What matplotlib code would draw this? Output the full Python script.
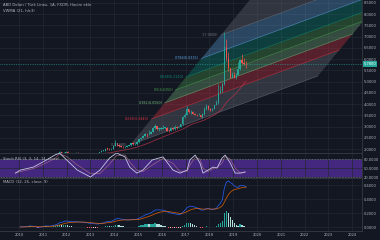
import numpy as np
import pandas as pd
import matplotlib
matplotlib.use("Agg")
import matplotlib.pyplot as plt
from matplotlib.patches import Polygon
from matplotlib.ticker import FuncFormatter
import matplotlib.transforms as mtransforms

BG = '#131722'
GRID = '#242833'
EDGE = '#363a45'
TXT = '#b2b5be'
UP = '#26a69a'
DOWN = '#ef5350'

# USD/TRY monthly, Jan 2010 .. Jul 2019
closes = [1.49, 1.53, 1.52, 1.49, 1.58, 1.58, 1.50, 1.51, 1.44, 1.42, 1.50, 1.55,
          1.60, 1.59, 1.54, 1.52, 1.59, 1.62, 1.70, 1.76, 1.86, 1.76, 1.84, 1.89,
          1.76, 1.75, 1.78, 1.76, 1.84, 1.81, 1.79, 1.83, 1.79, 1.79, 1.79, 1.78,
          1.76, 1.81, 1.81, 1.79, 1.87, 1.93, 1.94, 2.03, 2.02, 1.99, 2.03, 2.15,
          2.26, 2.21, 2.14, 2.10, 2.09, 2.12, 2.14, 2.17, 2.28, 2.22, 2.23, 2.33,
          2.44, 2.50, 2.60, 2.67, 2.66, 2.69, 2.77, 2.93, 3.03, 2.91, 2.91, 2.92,
          2.96, 2.96, 2.82, 2.81, 2.96, 2.88, 3.00, 2.96, 3.00, 3.10, 3.45, 3.52,
          3.77, 3.65, 3.65, 3.55, 3.53, 3.52, 3.52, 3.45, 3.56, 3.80, 3.92, 3.79,
          3.76, 3.80, 3.95, 4.06, 4.50, 4.58, 4.90, 6.56, 6.06, 5.59, 5.18, 5.29,
          5.18, 5.32, 5.55, 5.97, 5.84, 5.80, 5.78]
highs = [1.52, 1.55, 1.56, 1.53, 1.61, 1.62, 1.58, 1.54, 1.53, 1.46, 1.52, 1.58,
         1.62, 1.62, 1.60, 1.55, 1.62, 1.65, 1.72, 1.82, 1.90, 1.88, 1.89, 1.93,
         1.90, 1.78, 1.80, 1.80, 1.87, 1.86, 1.85, 1.84, 1.84, 1.81, 1.80, 1.80,
         1.79, 1.81, 1.84, 1.82, 1.88, 1.96, 1.97, 2.05, 2.07, 2.04, 2.05, 2.17,
         2.39, 2.28, 2.25, 2.17, 2.15, 2.16, 2.17, 2.20, 2.29, 2.31, 2.26, 2.38,
         2.45, 2.52, 2.64, 2.73, 2.73, 2.85, 2.82, 2.97, 3.10, 3.05, 2.94, 2.99,
         3.08, 3.00, 2.97, 2.86, 2.99, 2.98, 3.08, 3.02, 3.01, 3.14, 3.48, 3.60,
         3.94, 3.78, 3.75, 3.69, 3.60, 3.57, 3.62, 3.53, 3.60, 3.86, 3.99, 3.95,
         3.84, 3.82, 3.98, 4.18, 4.92, 4.83, 4.99, 7.20, 6.88, 6.30, 5.60, 5.45,
         5.45, 5.40, 5.86, 6.00, 6.25, 6.05, 5.90]
lows = [1.45, 1.48, 1.50, 1.46, 1.48, 1.54, 1.49, 1.48, 1.43, 1.39, 1.41, 1.48,
        1.54, 1.56, 1.51, 1.48, 1.51, 1.56, 1.61, 1.67, 1.72, 1.72, 1.74, 1.80,
        1.74, 1.72, 1.74, 1.75, 1.76, 1.79, 1.78, 1.77, 1.77, 1.77, 1.77, 1.76,
        1.75, 1.76, 1.79, 1.77, 1.78, 1.86, 1.90, 1.92, 1.96, 1.97, 1.98, 2.01,
        2.14, 2.16, 2.12, 2.09, 2.07, 2.06, 2.11, 2.13, 2.16, 2.20, 2.20, 2.21,
        2.28, 2.39, 2.50, 2.57, 2.55, 2.63, 2.68, 2.75, 2.90, 2.84, 2.83, 2.84,
        2.93, 2.88, 2.81, 2.76, 2.81, 2.86, 2.86, 2.89, 2.93, 3.00, 3.09, 3.40,
        3.51, 3.60, 3.56, 3.55, 3.50, 3.49, 3.50, 3.43, 3.40, 3.54, 3.76, 3.75,
        3.71, 3.71, 3.78, 3.95, 4.01, 4.50, 4.55, 4.86, 5.90, 5.46, 5.15, 5.19,
        5.15, 5.12, 5.28, 5.52, 5.78, 5.73, 5.62]
first_open = 1.48

# stoch RSI %K
rsi_years = [2009.85, 2010.05, 2010.6, 2011.0, 2011.5, 2011.7, 2012.0, 2012.45, 2013.0,
             2013.4, 2013.8, 2014.1, 2014.45, 2014.65, 2014.95, 2015.2, 2015.6, 2016.05,
             2016.47, 2016.76, 2017.06, 2017.18, 2017.4, 2017.6, 2017.73, 2017.94,
             2018.15, 2018.32, 2018.53, 2018.66, 2018.87, 2019.08, 2019.29, 2019.5]
rsi_k = [33, 43, 53, 70, 93, 100, 77, 43, 20, 43, 83, 100, 87, 53, 33, 43, 77, 87,
         43, 33, 43, 77, 93, 67, 33, 43, 53, 50, 83, 93, 67, 33, 33, 37]

# fib channel (year, price)
fib_start = (2014.66, 2.19)
fib_end = (2022.56, 5.26)
fib_shift = (3.82, 4.89)
fib_levels = [0, 0.236, 0.382, 0.5, 0.618, 0.786, 1, 1.618]
fib_colors = ['#787b86', '#f23645', '#81c784', '#4caf50', '#089981', '#64b5f6', '#787b86', '#2962ff']

years = list(range(2010, 2025))

n = len(closes)
x = 2010 + (np.arange(n) + 0.5) / 12
c = np.array(closes)
o = np.array([first_open] + closes[:-1])
h = np.array(highs)
l = np.array(lows)

W, H = 380, 240
def box(x0, y0, x1, y1):
    return [x0 / W, 1 - y1 / H, (x1 - x0) / W, (y1 - y0) / H]

fig = plt.figure(figsize=(3.8, 2.4), dpi=100, facecolor=BG)
ax = fig.add_axes(box(0, 0, 362, 153))
ax_rsi = fig.add_axes(box(0, 153, 362, 178), sharex=ax)
ax_macd = fig.add_axes(box(0, 178, 362, 231), sharex=ax)

for a in (ax, ax_rsi, ax_macd):
    a.set_facecolor(BG)
    for s in a.spines.values():
        s.set_color(EDGE)
        s.set_linewidth(0.6)
    a.spines['left'].set_visible(False)
    a.yaxis.tick_right()
    a.tick_params(axis='both', length=0, labelsize=2.6, colors=TXT, pad=1.5)
    a.set_xticks(years)
    a.grid(color=GRID, lw=0.5)
    a.set_axisbelow(True)
ax.spines['top'].set_visible(False)
ax.tick_params(labelbottom=False)
ax_rsi.tick_params(labelbottom=False)
ax_macd.set_xticklabels([str(y) for y in years])
ax.set_xlim(2009.2, 2024.41)

fmt4 = FuncFormatter(lambda v, p: f"{v:.4f}")

# --- price panel
ymin, ymax = 1.833, 8.633
ax.set_ylim(ymin, ymax)
ax.set_yticks(np.arange(2.0, 8.51, 0.5))
ax.yaxis.set_major_formatter(fmt4)

pts = []
for lv in fib_levels:
    p0 = (fib_start[0] + lv * fib_shift[0], fib_start[1] + lv * fib_shift[1])
    p1 = (fib_end[0] + lv * fib_shift[0], fib_end[1] + lv * fib_shift[1])
    pts.append((p0, p1))
for i in range(len(fib_levels) - 1):
    (a0, a1), (b0, b1) = pts[i], pts[i + 1]
    ax.add_patch(Polygon([a0, a1, b1, b0], closed=True, fc=fib_colors[i],
                         alpha=0.3, lw=0, zorder=1))
for (p0, p1), lv, col in zip(pts, fib_levels, fib_colors):
    ax.plot([p0[0], p1[0]], [p0[1], p1[1]], color=col, lw=0.5, alpha=0.55, zorder=2)
    if ymin < p0[1] < ymax - 0.2:
        ax.text(p0[0] - 0.1, p0[1], f"{lv}({p0[1]:.4f})", color=col, fontsize=2.4,
                ha='right', va='center', zorder=5, alpha=0.9)

colors = np.where(c >= o, UP, DOWN)
ax.vlines(x, l, h, colors=colors, lw=0.5, zorder=3)
ax.bar(x, np.maximum(np.abs(c - o), 0.015), bottom=np.minimum(o, c), width=0.06,
       color=colors, lw=0, zorder=4)

hlc3 = pd.Series((h + l + c) / 3)
vwma = hlc3.rolling(21).mean()
ax.plot(x, vwma, color='#b2334a', lw=0.6, alpha=0.8, zorder=3)

last = closes[-1]
ax.axhline(last, color=UP, lw=0.5, ls=(0, (1, 1.5)), zorder=2)
trans = mtransforms.blended_transform_factory(ax.transAxes, ax.transData)
ax.text(1.004, last, f"{last:.4f}", transform=trans, fontsize=2.6, color='white',
        ha='left', va='center', clip_on=False,
        bbox=dict(boxstyle='square,pad=0.25', fc=UP, ec='none'))

fig.text(3 / W, 1 - 5 / H, "ABD Doları / Türk Lirası, 1A, FXCM, Hacim ekle",
         color=TXT, fontsize=2.7, va='center')
fig.text(3 / W, 1 - 11 / H, "VWMA (21, hlc3)", color=TXT, fontsize=2.7, va='center')

# --- stoch RSI panel
ax_rsi.set_ylim(16.7, 100)
ax_rsi.set_yticks([20, 50, 80])
ax_rsi.yaxis.set_major_formatter(fmt4)
ax_rsi.axhspan(20, 80, color='#4a2a8a', alpha=0.9, lw=0, zorder=0.5)
for lvl in (20, 80):
    ax_rsi.axhline(lvl, color='#787b86', lw=0.4, ls=(0, (3, 2)), zorder=1)
rsi_d = pd.Series(rsi_k).rolling(2, min_periods=1).mean()
ax_rsi.plot(rsi_years, rsi_d, color='#c07a92', lw=0.5, alpha=0.7, zorder=2)
ax_rsi.plot(rsi_years, rsi_k, color='#c9c6e8', lw=0.6, zorder=3)
ax_rsi.text(0.008, 0.78, "Stoch RSI (3, 3, 14, 14, close)", transform=ax_rsi.transAxes,
            color=TXT, fontsize=2.7, va='center')

# --- MACD panel
s = pd.Series(closes)
macd = s.ewm(span=12, adjust=False).mean() - s.ewm(span=26, adjust=False).mean()
signal = macd.ewm(span=9, adjust=False).mean()
hist = (macd - signal).values
prev = np.concatenate([[0], hist[:-1]])
hcol = np.where(hist >= 0, np.where(hist >= prev, '#26a69a', '#b2dfdb'),
                np.where(hist <= prev, '#ff5252', '#ffcdd2'))
ax_macd.set_ylim(-0.057, 0.7)
ax_macd.set_yticks([0, 0.2, 0.4, 0.6])
ax_macd.yaxis.set_major_formatter(fmt4)
ax_macd.bar(x, hist, width=0.06, color=hcol, lw=0, zorder=2)
ax_macd.plot(x, macd, color='#2962ff', lw=0.5, zorder=3)
ax_macd.plot(x, signal, color='#ff6d00', lw=0.5, alpha=0.85, zorder=3)
ax_macd.text(0.008, 0.92, "MACD (12, 26, close, 9)", transform=ax_macd.transAxes,
             color=TXT, fontsize=2.7, va='center')

fig.savefig("out.png", dpi=100, facecolor=BG)
